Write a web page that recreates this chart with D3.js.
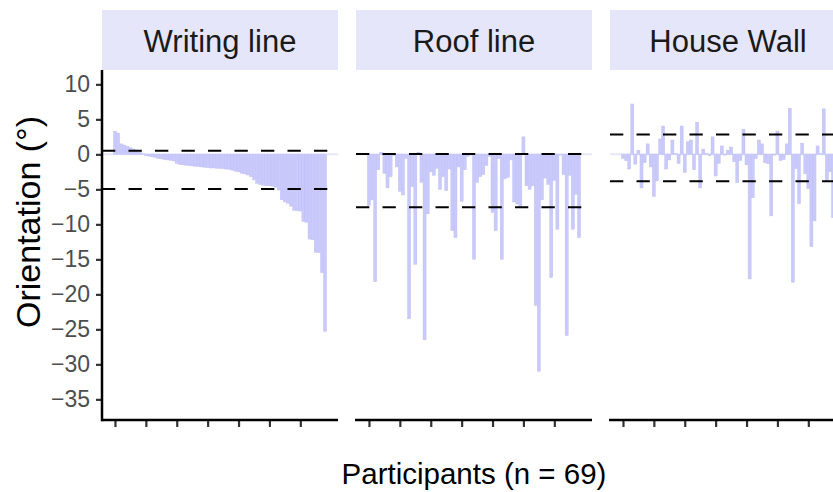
<!DOCTYPE html>
<html>
<head>
<meta charset="utf-8">
<script src="https://cdn.jsdelivr.net/npm/d3@7"></script>
<style>
  html, body { margin: 0; padding: 0; background: #ffffff; }
  svg { display: block; }
  text { font-family: "Liberation Sans", Arial, Helvetica, sans-serif; }
</style>
</head>
<body>
<svg id="chart" width="833" height="492"></svg>
<script>
// ---- data ----
const panels = ["Writing line", "Roof line", "House Wall"];
const writingLine = [3.3, 3.05, 1.5, 1.33, 1.14, 0.95, 0.76, 0.62, 0.4, 0.1,
  -0.15, -0.25, -0.35, -0.45, -0.6, -0.65, -0.75, -0.8, -0.85, -0.95,
  -1.3, -1.45, -1.5, -1.55, -1.6, -1.65, -1.7, -1.75, -1.8, -1.85,
  -1.9, -1.95, -1.95, -2.0, -2.0, -2.05, -2.1, -2.15, -2.25, -2.4,
  -2.5, -2.7, -2.8, -2.95, -3.2, -3.65, -4.15, -4.3, -4.4, -4.5,
  -4.5, -4.55, -4.7, -5.1, -6.5, -6.8, -7.0, -7.4, -8.0, -8.05,
  -8.1, -9.6, -9.7, -12.1, -12.2, -14.0, -14.05, -16.9, -25.3];
const roofLine = [-7.3, -6.5, -18.2, -2.2, 0.3, -2.7, -4.8, -3.2, -0.15, -1.8,
  -5.3, -5.8, -0.6, -23.5, -4.6, -15.7, 0.3, -4.0, -26.5, -8.5,
  -2.5, -3.0, -2.0, -5.0, -3.2, -5.2, -2.1, -10.9, -11.9, -1.8,
  -6.7, -2.2, -0.3, -0.1, -15.0, -4.0, -3.2, -2.9, -1.6, -0.3,
  -8.3, -10.9, -0.6, -15.0, -3.5, -3.3, -0.8, -6.8, -7.1, -7.4,
  2.5, -4.5, -5.0, -4.5, -21.6, -31.0, -6.5, -3.4, -4.3, -17.6,
  -3.7, -10.7, -0.1, -2.9, -25.9, -3.0, -10.7, -5.7, -11.9];
const houseWall = [-0.6, -0.9, -2.1, 7.2, -1.4, 0.6, -4.8, -1.2, 1.5, -1.8,
  -6.05, -3.8, 2.2, 4.05, -2.1, -0.8, 2.05, 0.1, -1.3, 4.05,
  -2.6, 1.8, 2.05, -2.2, 4.6, -4.8, 0.75, 0.1, -0.2, 2.5,
  -3.1, -1.3, 1.2, -0.1, 0.6, 1.05, -1.05, -4.05, -0.9, 3.6,
  -1.5, -17.8, -6.2, -0.6, 2.05, 1.5, -1.2, -1.33, -8.8, -0.1,
  3.33, -0.9, -0.76, 1.5, 6.6, -18.3, -2.05, -7.05, 1.6, -2.76,
  -4.9, -13.2, -9.5, 1.2, 0.1, 6.5, -3.76, -2.5, -9.05];
const upperLines = [0.5, 0.05, 2.85];
const lowerLines = [-4.95, -7.55, -3.85];
const yTicks = [10, 5, 0, -5, -10, -15, -20, -25, -30, -35];
const xTicks = [1, 11, 21, 31, 41, 51, 61];
const xTitle = "Participants (n = 69)";
const yTitle = "Orientation (°)";

const series = [writingLine, roofLine, houseWall];

// ---- layout ----
const svg = d3.select("#chart");
const panelLefts = [102, 356, 610];
const panelW = 236;
const plotTop = 70, plotBottom = 420;
const stripTop = 10;

const y = d3.scaleLinear().domain([-37.95, 12.05]).range([plotBottom, plotTop]);
const barFill = "#c9c9fb";

panels.forEach((name, p) => {
  const x0 = panelLefts[p];
  const x = d3.scaleLinear().domain([-3.2, 73.2]).range([x0, x0 + panelW]);
  const g = svg.append("g");

  // strip
  g.append("rect").attr("x", x0).attr("y", stripTop).attr("width", panelW)
    .attr("height", plotTop - stripTop).attr("fill", "#e6e6fa");
  g.append("text").attr("x", x0 + panelW / 2).attr("y", 51.5)
    .attr("text-anchor", "middle").attr("font-size", 31).attr("fill", "#1a1a1a")
    .text(name);

  // zero line
  g.append("line").attr("x1", x0).attr("x2", x0 + panelW)
    .attr("y1", y(0)).attr("y2", y(0))
    .attr("stroke", "#e6e6fa").attr("stroke-width", 2);

  // bars
  const data = series[p].map((v, i) => ({ k: i + 1, v }));
  g.selectAll("rect.bar").data(data).join("rect").attr("class", "bar")
    .attr("x", d => x(d.k - 0.5))
    .attr("width", d => x(d.k + 0.5) - x(d.k - 0.5))
    .attr("y", d => y(Math.max(0, d.v)))
    .attr("height", d => Math.abs(y(d.v) - y(0)))
    .attr("fill", barFill)
    .attr("stroke", "#bdbdf6").attr("stroke-width", 0.4);

  // dashed lines
  [upperLines[p], lowerLines[p]].forEach(v => {
    g.append("line").attr("x1", x0).attr("x2", x0 + panelW)
      .attr("y1", y(v)).attr("y2", y(v))
      .attr("stroke", "#000").attr("stroke-width", 2)
      .attr("stroke-dasharray", "13.3,13.2");
  });

  // x axis
  const xAxis = d3.axisBottom(x).tickValues(xTicks).tickSize(7).tickFormat("");
  const ax = g.append("g").attr("transform", `translate(0,${plotBottom})`).call(xAxis);
  ax.select(".domain").remove();
  ax.selectAll(".tick line").attr("stroke", "#333333").attr("stroke-width", 2.2);
  g.append("line").attr("x1", x0 - 1).attr("x2", x0 + panelW)
    .attr("y1", plotBottom).attr("y2", plotBottom)
    .attr("stroke", "#000").attr("stroke-width", 2.5);
});

// y axis
const yAxis = d3.axisLeft(y).tickValues(yTicks).tickSize(6).tickPadding(6);
const ya = svg.append("g").attr("transform", `translate(${panelLefts[0]},0)`).call(yAxis);
ya.select(".domain").remove();
ya.selectAll(".tick line").attr("stroke", "#333333").attr("stroke-width", 2.2);
ya.selectAll(".tick text").attr("font-size", 23).attr("fill", "#4d4d4d")
  .attr("font-family", "Liberation Sans, Arial, sans-serif");
svg.append("line").attr("x1", panelLefts[0]).attr("x2", panelLefts[0])
  .attr("y1", plotTop).attr("y2", plotBottom + 1.2)
  .attr("stroke", "#000").attr("stroke-width", 2.5);

// titles
svg.append("text").attr("x", (panelLefts[0] + panelLefts[2] + panelW) / 2).attr("y", 484)
  .attr("text-anchor", "middle").attr("font-size", 29.5).attr("fill", "#000")
  .text(xTitle);
svg.append("text").attr("transform", `translate(40,222) rotate(-90)`)
  .attr("text-anchor", "middle").attr("font-size", 34).attr("fill", "#000")
  .text(yTitle);
</script>
</body>
</html>
